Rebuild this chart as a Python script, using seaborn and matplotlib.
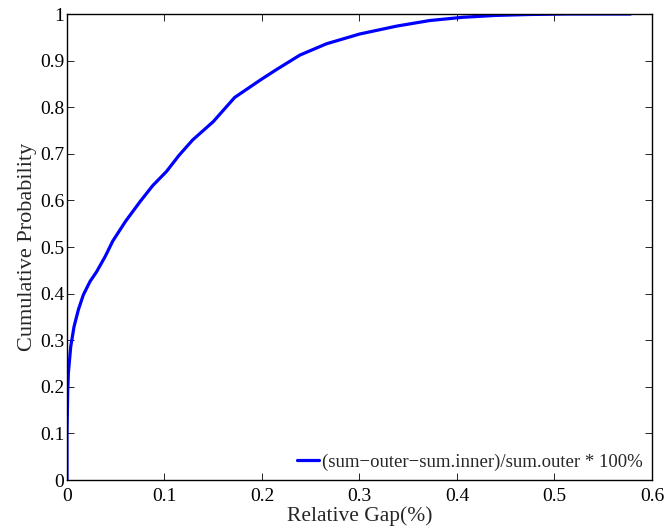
import numpy as np
import pandas as pd
import seaborn as sns
import matplotlib
import matplotlib.pyplot as plt

matplotlib.use('Agg')

# CDF of relative gap
gap = [0, 0, 0.0007, 0.0014, 0.0038, 0.0072, 0.0116, 0.0167, 0.0236, 0.0304,
       0.039, 0.047, 0.06, 0.0748, 0.088, 0.102, 0.115, 0.129, 0.150, 0.172,
       0.198, 0.215, 0.239, 0.266, 0.300, 0.338, 0.372, 0.406, 0.44, 0.475,
       0.51, 0.578]
prob = [0, 0.1, 0.187, 0.229, 0.286, 0.329, 0.365, 0.397, 0.426, 0.447,
        0.479, 0.513, 0.555, 0.597, 0.632, 0.662, 0.697, 0.730, 0.769, 0.821,
        0.858, 0.881, 0.912, 0.936, 0.957, 0.974, 0.986, 0.993, 0.997, 0.999,
        1.0, 1.0]
label = '(sum\u2212outer\u2212sum.inner)/sum.outer * 100%'

xticks = [0, 0.1, 0.2, 0.3, 0.4, 0.5, 0.6]
xticklabels = ['0', '0.1', '0.2', '0.3', '0.4', '0.5', '0.6']
yticks = [0, 0.1, 0.2, 0.3, 0.4, 0.5, 0.6, 0.7, 0.8, 0.9, 1]
yticklabels = ['0', '0.1', '0.2', '0.3', '0.4', '0.5', '0.6', '0.7', '0.8', '0.9', '1']

sns.set_style('ticks')
plt.rcParams['font.family'] = ['Liberation Serif', 'DejaVu Serif']

df = pd.DataFrame({'gap': gap, 'prob': prob})

fig = plt.figure(figsize=(6.68, 5.29), dpi=100)
ax = fig.add_axes([0.1003, 0.0926, 0.8757, 0.8809])

sns.lineplot(data=df, x='gap', y='prob', color='#0000ff', linewidth=2.3,
             label=label, sort=False, estimator=None, ax=ax)

ax.set_xlim(0, 0.6)
ax.set_ylim(0, 1)
ax.set_xticks(xticks)
ax.set_xticklabels(xticklabels)
ax.set_yticks(yticks)
ax.set_yticklabels(yticklabels)
ax.tick_params(direction='in', top=True, right=True, length=5, width=0.6,
               labelsize=14, colors='black')
ax.tick_params(axis='x', pad=6)
ax.tick_params(axis='y', pad=2)
for s in ax.spines.values():
    s.set_linewidth(1.0)
    s.set_color('black')

ax.set_xlabel('Relative Gap(%)', fontsize=15.5, labelpad=1)
ax.set_ylabel('Cumulative Probability', fontsize=16, labelpad=2)

ax.legend(loc='lower right', frameon=False, fontsize=13.5, handlelength=1.2,
          handletextpad=0.15, borderaxespad=0.1)

fig.savefig('out.png', dpi=100)
